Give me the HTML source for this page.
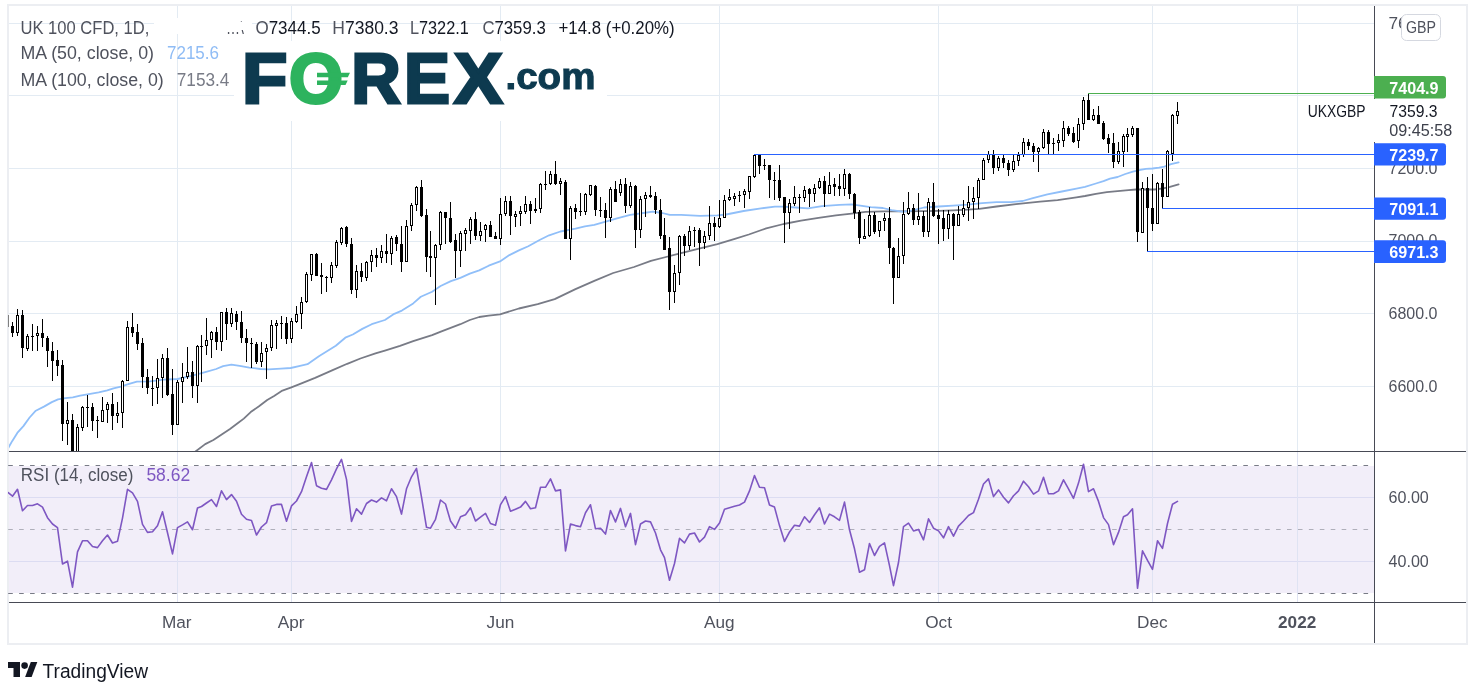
<!DOCTYPE html><html><head><meta charset="utf-8"><title>UK 100 CFD chart</title><style>html,body{margin:0;padding:0;background:#fff;}body{width:1482px;height:689px;overflow:hidden;position:relative;}svg{position:absolute;left:0;top:0;display:block;}text{font-family:"Liberation Sans", Arial, sans-serif;}</style></head><body>
<svg width="1482" height="689" viewBox="0 0 1482 689">
<defs><clipPath id="mp"><rect x="9" y="6" width="1365" height="445"/></clipPath><clipPath id="rp"><rect x="8" y="452" width="1366" height="150"/></clipPath></defs>
<rect x="7" y="4" width="1461" height="2" fill="#eceef2"/>
<rect x="7" y="643" width="1461" height="2" fill="#eceef2"/>
<rect x="7" y="4" width="2" height="641" fill="#eceef2"/>
<rect x="1466" y="4" width="2" height="641" fill="#eceef2"/>
<rect x="9" y="466" width="1365" height="127" fill="#f2eef9"/>
<rect x="9" y="23" width="1365" height="1" fill="#e3ebf3"/>
<rect x="9" y="95" width="1365" height="1" fill="#e3ebf3"/>
<rect x="9" y="168" width="1365" height="1" fill="#e3ebf3"/>
<rect x="9" y="241" width="1365" height="1" fill="#e3ebf3"/>
<rect x="9" y="313" width="1365" height="1" fill="#e3ebf3"/>
<rect x="9" y="386" width="1365" height="1" fill="#e3ebf3"/>
<rect x="9" y="497" width="1365" height="1" fill="#dcdcf2"/>
<rect x="9" y="561" width="1365" height="1" fill="#dcdcf2"/>
<rect x="177" y="6" width="1" height="445" fill="#e3ebf3"/>
<rect x="177" y="452" width="1" height="150" fill="#dfe3f3"/>
<rect x="291" y="6" width="1" height="445" fill="#e3ebf3"/>
<rect x="291" y="452" width="1" height="150" fill="#dfe3f3"/>
<rect x="500" y="6" width="1" height="445" fill="#e3ebf3"/>
<rect x="500" y="452" width="1" height="150" fill="#dfe3f3"/>
<rect x="719" y="6" width="1" height="445" fill="#e3ebf3"/>
<rect x="719" y="452" width="1" height="150" fill="#dfe3f3"/>
<rect x="938" y="6" width="1" height="445" fill="#e3ebf3"/>
<rect x="938" y="452" width="1" height="150" fill="#dfe3f3"/>
<rect x="1152" y="6" width="1" height="445" fill="#e3ebf3"/>
<rect x="1152" y="452" width="1" height="150" fill="#dfe3f3"/>
<rect x="1297" y="6" width="1" height="445" fill="#e3ebf3"/>
<rect x="1297" y="452" width="1" height="150" fill="#dfe3f3"/>
<line x1="8.2" y1="465.5" x2="1374" y2="465.5" stroke="#787b86" stroke-width="1" stroke-dasharray="4.6 6.33"/>
<line x1="8.2" y1="529.5" x2="1374" y2="529.5" stroke="rgba(120,123,134,0.55)" stroke-width="1" stroke-dasharray="4.6 6.33"/>
<line x1="8.2" y1="593.5" x2="1374" y2="593.5" stroke="#787b86" stroke-width="1" stroke-dasharray="4.6 6.33"/>
<g clip-path="url(#mp)">
<polyline points="195.5,451.5 205.2,444.1 213.4,440.0 221.7,434.5 230.0,429.0 238.3,422.8 243.8,418.6 250.7,412.1 259.0,406.2 267.2,400.0 274.1,395.9 282.4,390.6 290.7,387.6 299.0,384.3 315.1,377.9 332.1,370.4 347.2,363.8 360.4,358.5 375.5,353.4 384.9,350.6 400.0,345.8 413.2,341.1 432.1,335.1 441.5,331.3 460.4,324.2 469.8,320.0 479.2,317.0 488.7,315.7 500.0,314.4 518.9,308.5 537.7,304.2 554.7,299.1 575.5,289.1 594.3,280.9 613.2,273.0 634.0,267.0 650.9,260.8 666.0,257.0 681.1,253.2 700.0,248.4 717.4,244.1 734.8,238.9 748.8,234.5 766.2,228.4 783.6,224.0 801.0,220.6 818.5,217.9 835.9,215.3 851.6,213.6 865.5,211.8 882.9,211.3 900.0,211.3 924.0,211.1 938.5,210.8 953.1,210.4 967.6,209.7 979.2,208.9 996.6,206.5 1018.4,203.9 1040.1,201.7 1057.6,200.2 1076.4,197.3 1085.0,196.0 1095.9,193.9 1106.8,192.2 1117.6,191.1 1128.5,190.1 1136.1,189.5 1145.9,189.5 1154.6,189.5 1163.3,188.4 1169.9,186.8 1178.6,184.4" fill="none" stroke="#787b86" stroke-width="1.8" stroke-linejoin="round" stroke-linecap="round"/>
<polyline points="8.4,447.7 12.3,440.9 17.3,432.9 23.4,426.1 29.6,417.5 35.8,410.7 44.4,406.4 51.8,402.1 58.0,399.4 65.4,398.1 72.8,397.4 80.2,395.7 88.8,394.1 98.7,392.4 107.3,390.4 113.5,388.3 120.9,386.7 128.3,384.2 136.9,381.7 150.0,381.3 163.8,379.6 177.6,379.0 191.4,375.9 205.2,372.1 216.2,369.0 223.1,366.2 231.4,364.6 239.7,365.8 249.3,367.6 260.3,369.0 268.6,369.4 281.0,368.6 290.7,368.0 299.0,366.2 307.5,364.2 318.9,356.2 335.8,345.8 345.3,337.7 352.8,334.5 362.3,328.9 371.7,324.2 384.9,320.0 394.3,313.8 401.9,310.6 413.2,303.4 420.8,296.8 432.1,291.7 440.6,286.0 450.9,281.1 460.4,277.9 469.8,273.6 479.2,270.4 488.7,265.7 500.0,261.4 509.4,255.1 518.9,250.4 528.3,246.2 539.6,240.0 549.1,235.3 560.4,231.5 575.5,228.7 584.9,226.4 594.3,224.9 605.7,221.7 617.0,218.3 630.2,214.9 643.4,213.0 652.8,211.7 662.3,213.0 669.8,214.9 681.1,214.9 700.0,215.8 717.4,215.3 726.1,214.5 743.6,211.0 761.0,208.4 774.9,206.6 783.6,206.6 795.8,207.5 808.0,208.4 822.0,206.1 839.4,204.9 851.6,204.4 860.3,205.7 870.7,207.1 882.9,208.0 891.6,210.1 902.3,211.6 909.5,211.1 924.0,207.5 938.5,206.5 953.1,205.6 967.6,204.6 982.1,203.1 996.6,202.1 1011.1,202.1 1022.7,201.0 1032.9,198.1 1047.4,194.4 1061.9,191.5 1076.4,188.6 1085.0,186.8 1095.9,183.5 1103.5,181.1 1110.0,178.6 1117.6,177.0 1125.3,174.0 1132.9,171.6 1140.5,169.9 1145.9,168.8 1152.5,168.5 1159.0,167.7 1164.4,166.7 1171.0,164.2 1178.6,162.3" fill="none" stroke="#90bff9" stroke-width="1.8" stroke-linejoin="round" stroke-linecap="round"/>
<g fill="#000"><rect x="12" y="322" width="1" height="15"/><rect x="11" y="326" width="3" height="7"/><rect x="17" y="309" width="1" height="27"/><rect x="16" y="315" width="3" height="18"/><rect x="17" y="316" width="1" height="16" fill="#fff"/><rect x="22" y="310" width="1" height="48"/><rect x="21" y="315" width="3" height="33"/><rect x="27" y="334" width="1" height="17"/><rect x="26" y="336" width="3" height="13"/><rect x="27" y="337" width="1" height="11" fill="#fff"/><rect x="32" y="324" width="1" height="27"/><rect x="31" y="336" width="3" height="1"/><rect x="37" y="326" width="1" height="25"/><rect x="36" y="333" width="3" height="3"/><rect x="37" y="334" width="1" height="1" fill="#fff"/><rect x="42" y="319" width="1" height="28"/><rect x="41" y="333" width="3" height="5"/><rect x="47" y="336" width="1" height="31"/><rect x="46" y="338" width="3" height="13"/><rect x="52" y="342" width="1" height="39"/><rect x="51" y="351" width="3" height="10"/><rect x="57" y="350" width="1" height="26"/><rect x="56" y="360" width="3" height="6"/><rect x="62" y="360" width="1" height="81"/><rect x="61" y="365" width="3" height="59"/><rect x="67" y="402" width="1" height="43"/><rect x="66" y="420" width="3" height="4"/><rect x="67" y="421" width="1" height="2" fill="#fff"/><rect x="72" y="414" width="1" height="56"/><rect x="71" y="420" width="3" height="40"/><rect x="77" y="424" width="1" height="46"/><rect x="76" y="427" width="3" height="43"/><rect x="77" y="428" width="1" height="41" fill="#fff"/><rect x="82" y="406" width="1" height="25"/><rect x="81" y="407" width="3" height="21"/><rect x="82" y="408" width="1" height="19" fill="#fff"/><rect x="87" y="395" width="1" height="32"/><rect x="86" y="407" width="3" height="1"/><rect x="92" y="403" width="1" height="28"/><rect x="91" y="407" width="3" height="14"/><rect x="97" y="416" width="1" height="22"/><rect x="96" y="420" width="3" height="1"/><rect x="102" y="397" width="1" height="25"/><rect x="101" y="410" width="3" height="12"/><rect x="102" y="411" width="1" height="10" fill="#fff"/><rect x="107" y="402" width="1" height="21"/><rect x="106" y="404" width="3" height="6"/><rect x="107" y="405" width="1" height="4" fill="#fff"/><rect x="112" y="393" width="1" height="37"/><rect x="111" y="404" width="3" height="12"/><rect x="117" y="402" width="1" height="21"/><rect x="116" y="413" width="3" height="3"/><rect x="117" y="414" width="1" height="1" fill="#fff"/><rect x="122" y="380" width="1" height="48"/><rect x="121" y="381" width="3" height="32"/><rect x="122" y="382" width="1" height="30" fill="#fff"/><rect x="127" y="321" width="1" height="60"/><rect x="126" y="327" width="3" height="54"/><rect x="127" y="328" width="1" height="52" fill="#fff"/><rect x="132" y="313" width="1" height="24"/><rect x="131" y="327" width="3" height="6"/><rect x="137" y="324" width="1" height="26"/><rect x="136" y="332" width="3" height="12"/><rect x="142" y="338" width="1" height="50"/><rect x="141" y="343" width="3" height="34"/><rect x="147" y="369" width="1" height="25"/><rect x="146" y="377" width="3" height="11"/><rect x="152" y="376" width="1" height="30"/><rect x="151" y="388" width="3" height="1"/><rect x="157" y="359" width="1" height="45"/><rect x="156" y="378" width="3" height="10"/><rect x="157" y="379" width="1" height="8" fill="#fff"/><rect x="162" y="354" width="1" height="44"/><rect x="161" y="358" width="3" height="20"/><rect x="162" y="359" width="1" height="18" fill="#fff"/><rect x="167" y="348" width="1" height="48"/><rect x="166" y="358" width="3" height="37"/><rect x="172" y="369" width="1" height="66"/><rect x="171" y="394" width="3" height="31"/><rect x="177" y="380" width="1" height="45"/><rect x="176" y="382" width="3" height="43"/><rect x="177" y="383" width="1" height="41" fill="#fff"/><rect x="182" y="363" width="1" height="40"/><rect x="181" y="377" width="3" height="5"/><rect x="182" y="378" width="1" height="3" fill="#fff"/><rect x="187" y="347" width="1" height="32"/><rect x="186" y="372" width="3" height="5"/><rect x="187" y="373" width="1" height="3" fill="#fff"/><rect x="192" y="361" width="1" height="37"/><rect x="191" y="372" width="3" height="14"/><rect x="197" y="345" width="1" height="58"/><rect x="196" y="346" width="3" height="40"/><rect x="197" y="347" width="1" height="38" fill="#fff"/><rect x="201" y="335" width="1" height="47"/><rect x="200" y="346" width="3" height="1"/><rect x="206" y="318" width="1" height="37"/><rect x="205" y="340" width="3" height="6"/><rect x="206" y="341" width="1" height="4" fill="#fff"/><rect x="211" y="331" width="1" height="27"/><rect x="210" y="332" width="3" height="8"/><rect x="211" y="333" width="1" height="6" fill="#fff"/><rect x="216" y="327" width="1" height="23"/><rect x="215" y="332" width="3" height="10"/><rect x="221" y="312" width="1" height="39"/><rect x="220" y="312" width="3" height="30"/><rect x="221" y="313" width="1" height="28" fill="#fff"/><rect x="226" y="308" width="1" height="32"/><rect x="225" y="312" width="3" height="12"/><rect x="231" y="308" width="1" height="19"/><rect x="230" y="313" width="3" height="11"/><rect x="231" y="314" width="1" height="9" fill="#fff"/><rect x="236" y="311" width="1" height="19"/><rect x="235" y="314" width="3" height="8"/><rect x="241" y="311" width="1" height="32"/><rect x="240" y="322" width="3" height="16"/><rect x="246" y="329" width="1" height="33"/><rect x="245" y="338" width="3" height="5"/><rect x="251" y="338" width="1" height="30"/><rect x="250" y="343" width="3" height="1"/><rect x="256" y="342" width="1" height="22"/><rect x="255" y="344" width="3" height="18"/><rect x="261" y="342" width="1" height="25"/><rect x="260" y="353" width="3" height="9"/><rect x="261" y="354" width="1" height="7" fill="#fff"/><rect x="266" y="344" width="1" height="35"/><rect x="265" y="348" width="3" height="4"/><rect x="266" y="349" width="1" height="2" fill="#fff"/><rect x="271" y="320" width="1" height="31"/><rect x="270" y="325" width="3" height="23"/><rect x="271" y="326" width="1" height="21" fill="#fff"/><rect x="276" y="320" width="1" height="29"/><rect x="275" y="323" width="3" height="3"/><rect x="276" y="324" width="1" height="1" fill="#fff"/><rect x="281" y="316" width="1" height="23"/><rect x="280" y="323" width="3" height="1"/><rect x="286" y="317" width="1" height="27"/><rect x="285" y="323" width="3" height="16"/><rect x="291" y="318" width="1" height="25"/><rect x="290" y="321" width="3" height="18"/><rect x="291" y="322" width="1" height="16" fill="#fff"/><rect x="296" y="306" width="1" height="17"/><rect x="295" y="314" width="3" height="8"/><rect x="296" y="315" width="1" height="6" fill="#fff"/><rect x="301" y="297" width="1" height="32"/><rect x="300" y="302" width="3" height="12"/><rect x="301" y="303" width="1" height="10" fill="#fff"/><rect x="306" y="272" width="1" height="31"/><rect x="305" y="274" width="3" height="28"/><rect x="306" y="275" width="1" height="26" fill="#fff"/><rect x="311" y="254" width="1" height="27"/><rect x="310" y="254" width="3" height="21"/><rect x="311" y="255" width="1" height="19" fill="#fff"/><rect x="316" y="253" width="1" height="23"/><rect x="315" y="254" width="3" height="22"/><rect x="321" y="263" width="1" height="31"/><rect x="320" y="275" width="3" height="2"/><rect x="326" y="276" width="1" height="16"/><rect x="325" y="277" width="3" height="1"/><rect x="331" y="262" width="1" height="21"/><rect x="330" y="265" width="3" height="13"/><rect x="331" y="266" width="1" height="11" fill="#fff"/><rect x="336" y="240" width="1" height="28"/><rect x="335" y="242" width="3" height="24"/><rect x="336" y="243" width="1" height="22" fill="#fff"/><rect x="341" y="227" width="1" height="18"/><rect x="340" y="228" width="3" height="15"/><rect x="341" y="229" width="1" height="13" fill="#fff"/><rect x="346" y="226" width="1" height="21"/><rect x="345" y="227" width="3" height="17"/><rect x="351" y="238" width="1" height="56"/><rect x="350" y="244" width="3" height="46"/><rect x="356" y="265" width="1" height="33"/><rect x="355" y="271" width="3" height="19"/><rect x="356" y="272" width="1" height="17" fill="#fff"/><rect x="361" y="263" width="1" height="19"/><rect x="360" y="271" width="3" height="6"/><rect x="366" y="261" width="1" height="20"/><rect x="365" y="262" width="3" height="16"/><rect x="366" y="263" width="1" height="14" fill="#fff"/><rect x="371" y="250" width="1" height="22"/><rect x="370" y="255" width="3" height="7"/><rect x="371" y="256" width="1" height="5" fill="#fff"/><rect x="376" y="248" width="1" height="19"/><rect x="375" y="255" width="3" height="3"/><rect x="381" y="245" width="1" height="18"/><rect x="380" y="251" width="3" height="7"/><rect x="381" y="252" width="1" height="5" fill="#fff"/><rect x="386" y="234" width="1" height="29"/><rect x="385" y="251" width="3" height="3"/><rect x="391" y="236" width="1" height="29"/><rect x="390" y="238" width="3" height="16"/><rect x="391" y="239" width="1" height="14" fill="#fff"/><rect x="396" y="235" width="1" height="16"/><rect x="395" y="237" width="3" height="7"/><rect x="401" y="226" width="1" height="46"/><rect x="400" y="244" width="3" height="18"/><rect x="406" y="220" width="1" height="42"/><rect x="405" y="226" width="3" height="36"/><rect x="406" y="227" width="1" height="34" fill="#fff"/><rect x="411" y="203" width="1" height="28"/><rect x="410" y="205" width="3" height="21"/><rect x="411" y="206" width="1" height="19" fill="#fff"/><rect x="416" y="186" width="1" height="25"/><rect x="415" y="187" width="3" height="18"/><rect x="416" y="188" width="1" height="16" fill="#fff"/><rect x="421" y="180" width="1" height="37"/><rect x="420" y="187" width="3" height="29"/><rect x="426" y="209" width="1" height="63"/><rect x="425" y="215" width="3" height="42"/><rect x="430" y="231" width="1" height="46"/><rect x="429" y="256" width="3" height="2"/><rect x="435" y="244" width="1" height="61"/><rect x="434" y="245" width="3" height="13"/><rect x="435" y="246" width="1" height="11" fill="#fff"/><rect x="440" y="211" width="1" height="39"/><rect x="439" y="212" width="3" height="33"/><rect x="440" y="213" width="1" height="31" fill="#fff"/><rect x="445" y="212" width="1" height="32"/><rect x="444" y="212" width="3" height="6"/><rect x="450" y="202" width="1" height="41"/><rect x="449" y="218" width="3" height="24"/><rect x="455" y="234" width="1" height="44"/><rect x="454" y="240" width="3" height="11"/><rect x="460" y="231" width="1" height="36"/><rect x="459" y="233" width="3" height="18"/><rect x="460" y="234" width="1" height="16" fill="#fff"/><rect x="465" y="228" width="1" height="23"/><rect x="464" y="230" width="3" height="4"/><rect x="465" y="231" width="1" height="2" fill="#fff"/><rect x="470" y="217" width="1" height="27"/><rect x="469" y="219" width="3" height="12"/><rect x="470" y="220" width="1" height="10" fill="#fff"/><rect x="475" y="212" width="1" height="28"/><rect x="474" y="219" width="3" height="17"/><rect x="480" y="222" width="1" height="19"/><rect x="479" y="231" width="3" height="5"/><rect x="480" y="232" width="1" height="3" fill="#fff"/><rect x="485" y="224" width="1" height="18"/><rect x="484" y="225" width="3" height="5"/><rect x="485" y="226" width="1" height="3" fill="#fff"/><rect x="490" y="221" width="1" height="16"/><rect x="489" y="225" width="3" height="12"/><rect x="495" y="232" width="1" height="7"/><rect x="494" y="236" width="3" height="3"/><rect x="500" y="198" width="1" height="47"/><rect x="499" y="214" width="3" height="25"/><rect x="500" y="215" width="1" height="23" fill="#fff"/><rect x="505" y="196" width="1" height="20"/><rect x="504" y="201" width="3" height="13"/><rect x="505" y="202" width="1" height="11" fill="#fff"/><rect x="510" y="196" width="1" height="39"/><rect x="509" y="201" width="3" height="15"/><rect x="515" y="211" width="1" height="16"/><rect x="514" y="214" width="3" height="3"/><rect x="515" y="215" width="1" height="1" fill="#fff"/><rect x="520" y="206" width="1" height="20"/><rect x="519" y="211" width="3" height="3"/><rect x="520" y="212" width="1" height="1" fill="#fff"/><rect x="525" y="196" width="1" height="18"/><rect x="524" y="204" width="3" height="8"/><rect x="525" y="205" width="1" height="6" fill="#fff"/><rect x="530" y="201" width="1" height="23"/><rect x="529" y="204" width="3" height="7"/><rect x="535" y="198" width="1" height="15"/><rect x="534" y="209" width="3" height="2"/><rect x="540" y="183" width="1" height="30"/><rect x="539" y="184" width="3" height="25"/><rect x="540" y="185" width="1" height="23" fill="#fff"/><rect x="545" y="171" width="1" height="19"/><rect x="544" y="184" width="3" height="1"/><rect x="550" y="171" width="1" height="14"/><rect x="549" y="174" width="3" height="10"/><rect x="550" y="175" width="1" height="8" fill="#fff"/><rect x="555" y="161" width="1" height="24"/><rect x="554" y="174" width="3" height="10"/><rect x="560" y="178" width="1" height="17"/><rect x="559" y="181" width="3" height="3"/><rect x="560" y="182" width="1" height="1" fill="#fff"/><rect x="565" y="180" width="1" height="59"/><rect x="564" y="182" width="3" height="57"/><rect x="570" y="206" width="1" height="54"/><rect x="569" y="208" width="3" height="31"/><rect x="570" y="209" width="1" height="29" fill="#fff"/><rect x="575" y="204" width="1" height="15"/><rect x="574" y="208" width="3" height="4"/><rect x="580" y="193" width="1" height="23"/><rect x="579" y="211" width="3" height="1"/><rect x="585" y="193" width="1" height="22"/><rect x="584" y="194" width="3" height="18"/><rect x="585" y="195" width="1" height="16" fill="#fff"/><rect x="590" y="185" width="1" height="11"/><rect x="589" y="185" width="3" height="10"/><rect x="590" y="186" width="1" height="8" fill="#fff"/><rect x="595" y="185" width="1" height="31"/><rect x="594" y="186" width="3" height="24"/><rect x="600" y="197" width="1" height="20"/><rect x="599" y="210" width="3" height="1"/><rect x="605" y="203" width="1" height="35"/><rect x="604" y="210" width="3" height="8"/><rect x="610" y="187" width="1" height="35"/><rect x="609" y="189" width="3" height="29"/><rect x="610" y="190" width="1" height="27" fill="#fff"/><rect x="615" y="181" width="1" height="21"/><rect x="614" y="189" width="3" height="13"/><rect x="620" y="179" width="1" height="17"/><rect x="619" y="184" width="3" height="9"/><rect x="620" y="185" width="1" height="7" fill="#fff"/><rect x="625" y="178" width="1" height="35"/><rect x="624" y="184" width="3" height="22"/><rect x="630" y="182" width="1" height="26"/><rect x="629" y="186" width="3" height="20"/><rect x="630" y="187" width="1" height="18" fill="#fff"/><rect x="635" y="185" width="1" height="63"/><rect x="634" y="186" width="3" height="44"/><rect x="640" y="196" width="1" height="42"/><rect x="639" y="199" width="3" height="31"/><rect x="640" y="200" width="1" height="29" fill="#fff"/><rect x="645" y="192" width="1" height="25"/><rect x="644" y="195" width="3" height="4"/><rect x="645" y="196" width="1" height="2" fill="#fff"/><rect x="650" y="186" width="1" height="12"/><rect x="649" y="195" width="3" height="2"/><rect x="655" y="192" width="1" height="22"/><rect x="654" y="196" width="3" height="14"/><rect x="660" y="199" width="1" height="40"/><rect x="659" y="210" width="3" height="26"/><rect x="664" y="218" width="1" height="32"/><rect x="663" y="235" width="3" height="15"/><rect x="669" y="237" width="1" height="73"/><rect x="668" y="248" width="3" height="44"/><rect x="674" y="265" width="1" height="38"/><rect x="673" y="273" width="3" height="19"/><rect x="674" y="274" width="1" height="17" fill="#fff"/><rect x="679" y="235" width="1" height="50"/><rect x="678" y="236" width="3" height="37"/><rect x="679" y="237" width="1" height="35" fill="#fff"/><rect x="684" y="234" width="1" height="22"/><rect x="683" y="236" width="3" height="10"/><rect x="689" y="226" width="1" height="24"/><rect x="688" y="231" width="3" height="15"/><rect x="689" y="232" width="1" height="13" fill="#fff"/><rect x="694" y="227" width="1" height="20"/><rect x="693" y="230" width="3" height="1"/><rect x="699" y="228" width="1" height="38"/><rect x="698" y="230" width="3" height="13"/><rect x="704" y="231" width="1" height="18"/><rect x="703" y="236" width="3" height="7"/><rect x="704" y="237" width="1" height="5" fill="#fff"/><rect x="709" y="206" width="1" height="34"/><rect x="708" y="223" width="3" height="13"/><rect x="709" y="224" width="1" height="11" fill="#fff"/><rect x="714" y="217" width="1" height="24"/><rect x="713" y="223" width="3" height="4"/><rect x="719" y="200" width="1" height="28"/><rect x="718" y="218" width="3" height="9"/><rect x="719" y="219" width="1" height="7" fill="#fff"/><rect x="724" y="195" width="1" height="23"/><rect x="723" y="200" width="3" height="18"/><rect x="724" y="201" width="1" height="16" fill="#fff"/><rect x="729" y="189" width="1" height="12"/><rect x="728" y="197" width="3" height="3"/><rect x="729" y="198" width="1" height="1" fill="#fff"/><rect x="734" y="193" width="1" height="13"/><rect x="733" y="196" width="3" height="3"/><rect x="734" y="197" width="1" height="1" fill="#fff"/><rect x="739" y="191" width="1" height="11"/><rect x="738" y="195" width="3" height="1"/><rect x="744" y="189" width="1" height="19"/><rect x="743" y="191" width="3" height="4"/><rect x="744" y="192" width="1" height="2" fill="#fff"/><rect x="749" y="176" width="1" height="23"/><rect x="748" y="176" width="3" height="16"/><rect x="749" y="177" width="1" height="14" fill="#fff"/><rect x="754" y="154" width="1" height="24"/><rect x="753" y="155" width="3" height="22"/><rect x="754" y="156" width="1" height="20" fill="#fff"/><rect x="759" y="154" width="1" height="20"/><rect x="758" y="155" width="3" height="11"/><rect x="764" y="159" width="1" height="11"/><rect x="763" y="165" width="3" height="1"/><rect x="769" y="165" width="1" height="33"/><rect x="768" y="165" width="3" height="15"/><rect x="774" y="172" width="1" height="28"/><rect x="773" y="180" width="3" height="1"/><rect x="779" y="165" width="1" height="36"/><rect x="778" y="180" width="3" height="18"/><rect x="784" y="197" width="1" height="46"/><rect x="783" y="197" width="3" height="16"/><rect x="789" y="199" width="1" height="30"/><rect x="788" y="203" width="3" height="10"/><rect x="789" y="204" width="1" height="8" fill="#fff"/><rect x="794" y="186" width="1" height="20"/><rect x="793" y="197" width="3" height="7"/><rect x="794" y="198" width="1" height="5" fill="#fff"/><rect x="799" y="194" width="1" height="19"/><rect x="798" y="197" width="3" height="1"/><rect x="804" y="186" width="1" height="16"/><rect x="803" y="190" width="3" height="8"/><rect x="804" y="191" width="1" height="6" fill="#fff"/><rect x="809" y="188" width="1" height="19"/><rect x="808" y="189" width="3" height="5"/><rect x="814" y="184" width="1" height="18"/><rect x="813" y="188" width="3" height="6"/><rect x="814" y="189" width="1" height="4" fill="#fff"/><rect x="819" y="178" width="1" height="11"/><rect x="818" y="181" width="3" height="7"/><rect x="819" y="182" width="1" height="5" fill="#fff"/><rect x="824" y="176" width="1" height="31"/><rect x="823" y="181" width="3" height="13"/><rect x="829" y="172" width="1" height="22"/><rect x="828" y="185" width="3" height="9"/><rect x="829" y="186" width="1" height="7" fill="#fff"/><rect x="834" y="178" width="1" height="18"/><rect x="833" y="184" width="3" height="3"/><rect x="839" y="174" width="1" height="22"/><rect x="838" y="186" width="3" height="3"/><rect x="844" y="169" width="1" height="27"/><rect x="843" y="174" width="3" height="15"/><rect x="844" y="175" width="1" height="13" fill="#fff"/><rect x="849" y="173" width="1" height="26"/><rect x="848" y="174" width="3" height="20"/><rect x="854" y="193" width="1" height="26"/><rect x="853" y="194" width="3" height="19"/><rect x="859" y="210" width="1" height="34"/><rect x="858" y="212" width="3" height="26"/><rect x="864" y="219" width="1" height="20"/><rect x="863" y="236" width="3" height="3"/><rect x="864" y="237" width="1" height="1" fill="#fff"/><rect x="869" y="207" width="1" height="30"/><rect x="868" y="215" width="3" height="21"/><rect x="869" y="216" width="1" height="19" fill="#fff"/><rect x="874" y="212" width="1" height="22"/><rect x="873" y="215" width="3" height="17"/><rect x="879" y="221" width="1" height="16"/><rect x="878" y="221" width="3" height="10"/><rect x="879" y="222" width="1" height="8" fill="#fff"/><rect x="884" y="213" width="1" height="18"/><rect x="883" y="218" width="3" height="3"/><rect x="884" y="219" width="1" height="1" fill="#fff"/><rect x="889" y="207" width="1" height="57"/><rect x="888" y="218" width="3" height="30"/><rect x="893" y="247" width="1" height="57"/><rect x="892" y="248" width="3" height="30"/><rect x="898" y="238" width="1" height="40"/><rect x="897" y="256" width="3" height="22"/><rect x="898" y="257" width="1" height="20" fill="#fff"/><rect x="903" y="202" width="1" height="62"/><rect x="902" y="214" width="3" height="42"/><rect x="903" y="215" width="1" height="40" fill="#fff"/><rect x="908" y="192" width="1" height="23"/><rect x="907" y="208" width="3" height="6"/><rect x="908" y="209" width="1" height="4" fill="#fff"/><rect x="913" y="204" width="1" height="21"/><rect x="912" y="208" width="3" height="12"/><rect x="918" y="193" width="1" height="32"/><rect x="917" y="216" width="3" height="4"/><rect x="918" y="217" width="1" height="2" fill="#fff"/><rect x="923" y="211" width="1" height="26"/><rect x="922" y="216" width="3" height="16"/><rect x="928" y="198" width="1" height="39"/><rect x="927" y="202" width="3" height="30"/><rect x="928" y="203" width="1" height="28" fill="#fff"/><rect x="933" y="183" width="1" height="34"/><rect x="932" y="202" width="3" height="14"/><rect x="938" y="209" width="1" height="35"/><rect x="937" y="215" width="3" height="4"/><rect x="943" y="210" width="1" height="31"/><rect x="942" y="218" width="3" height="11"/><rect x="948" y="210" width="1" height="29"/><rect x="947" y="214" width="3" height="15"/><rect x="948" y="215" width="1" height="13" fill="#fff"/><rect x="953" y="213" width="1" height="47"/><rect x="952" y="214" width="3" height="12"/><rect x="958" y="206" width="1" height="20"/><rect x="957" y="214" width="3" height="12"/><rect x="958" y="215" width="1" height="10" fill="#fff"/><rect x="963" y="200" width="1" height="17"/><rect x="962" y="208" width="3" height="7"/><rect x="963" y="209" width="1" height="5" fill="#fff"/><rect x="968" y="186" width="1" height="35"/><rect x="967" y="202" width="3" height="6"/><rect x="968" y="203" width="1" height="4" fill="#fff"/><rect x="973" y="187" width="1" height="32"/><rect x="972" y="198" width="3" height="4"/><rect x="973" y="199" width="1" height="2" fill="#fff"/><rect x="978" y="178" width="1" height="31"/><rect x="977" y="180" width="3" height="18"/><rect x="978" y="181" width="1" height="16" fill="#fff"/><rect x="983" y="158" width="1" height="22"/><rect x="982" y="160" width="3" height="20"/><rect x="983" y="161" width="1" height="18" fill="#fff"/><rect x="988" y="151" width="1" height="12"/><rect x="987" y="154" width="3" height="6"/><rect x="988" y="155" width="1" height="4" fill="#fff"/><rect x="993" y="150" width="1" height="24"/><rect x="992" y="154" width="3" height="14"/><rect x="998" y="156" width="1" height="15"/><rect x="997" y="158" width="3" height="10"/><rect x="998" y="159" width="1" height="8" fill="#fff"/><rect x="1003" y="155" width="1" height="13"/><rect x="1002" y="158" width="3" height="5"/><rect x="1008" y="160" width="1" height="16"/><rect x="1007" y="163" width="3" height="7"/><rect x="1013" y="155" width="1" height="17"/><rect x="1012" y="161" width="3" height="9"/><rect x="1013" y="162" width="1" height="7" fill="#fff"/><rect x="1018" y="152" width="1" height="14"/><rect x="1017" y="155" width="3" height="6"/><rect x="1018" y="156" width="1" height="4" fill="#fff"/><rect x="1023" y="138" width="1" height="19"/><rect x="1022" y="142" width="3" height="13"/><rect x="1023" y="143" width="1" height="11" fill="#fff"/><rect x="1028" y="139" width="1" height="11"/><rect x="1027" y="142" width="3" height="4"/><rect x="1033" y="143" width="1" height="19"/><rect x="1032" y="146" width="3" height="6"/><rect x="1038" y="147" width="1" height="25"/><rect x="1037" y="148" width="3" height="4"/><rect x="1038" y="149" width="1" height="2" fill="#fff"/><rect x="1043" y="129" width="1" height="20"/><rect x="1042" y="132" width="3" height="16"/><rect x="1043" y="133" width="1" height="14" fill="#fff"/><rect x="1048" y="130" width="1" height="24"/><rect x="1047" y="132" width="3" height="12"/><rect x="1053" y="138" width="1" height="16"/><rect x="1052" y="143" width="3" height="1"/><rect x="1058" y="134" width="1" height="17"/><rect x="1057" y="140" width="3" height="3"/><rect x="1058" y="141" width="1" height="1" fill="#fff"/><rect x="1063" y="121" width="1" height="26"/><rect x="1062" y="128" width="3" height="13"/><rect x="1063" y="129" width="1" height="11" fill="#fff"/><rect x="1068" y="126" width="1" height="10"/><rect x="1067" y="128" width="3" height="6"/><rect x="1073" y="127" width="1" height="16"/><rect x="1072" y="133" width="3" height="9"/><rect x="1078" y="118" width="1" height="30"/><rect x="1077" y="124" width="3" height="17"/><rect x="1078" y="125" width="1" height="15" fill="#fff"/><rect x="1083" y="97" width="1" height="33"/><rect x="1082" y="100" width="3" height="24"/><rect x="1083" y="101" width="1" height="22" fill="#fff"/><rect x="1088" y="94" width="1" height="26"/><rect x="1087" y="100" width="3" height="20"/><rect x="1093" y="109" width="1" height="12"/><rect x="1092" y="115" width="3" height="5"/><rect x="1093" y="116" width="1" height="3" fill="#fff"/><rect x="1098" y="106" width="1" height="18"/><rect x="1097" y="115" width="3" height="9"/><rect x="1103" y="121" width="1" height="19"/><rect x="1102" y="123" width="3" height="16"/><rect x="1108" y="134" width="1" height="19"/><rect x="1107" y="138" width="3" height="6"/><rect x="1113" y="133" width="1" height="35"/><rect x="1112" y="143" width="3" height="19"/><rect x="1118" y="142" width="1" height="22"/><rect x="1117" y="151" width="3" height="11"/><rect x="1118" y="152" width="1" height="9" fill="#fff"/><rect x="1123" y="134" width="1" height="33"/><rect x="1122" y="136" width="3" height="16"/><rect x="1123" y="137" width="1" height="14" fill="#fff"/><rect x="1127" y="128" width="1" height="24"/><rect x="1126" y="134" width="3" height="3"/><rect x="1127" y="135" width="1" height="1" fill="#fff"/><rect x="1132" y="126" width="1" height="11"/><rect x="1131" y="128" width="3" height="7"/><rect x="1132" y="129" width="1" height="5" fill="#fff"/><rect x="1137" y="128" width="1" height="114"/><rect x="1136" y="128" width="3" height="104"/><rect x="1142" y="182" width="1" height="51"/><rect x="1141" y="188" width="3" height="45"/><rect x="1142" y="189" width="1" height="43" fill="#fff"/><rect x="1147" y="177" width="1" height="74"/><rect x="1146" y="188" width="3" height="20"/><rect x="1152" y="174" width="1" height="57"/><rect x="1151" y="208" width="3" height="16"/><rect x="1157" y="182" width="1" height="42"/><rect x="1156" y="183" width="3" height="41"/><rect x="1157" y="184" width="1" height="39" fill="#fff"/><rect x="1162" y="169" width="1" height="39"/><rect x="1161" y="183" width="3" height="14"/><rect x="1167" y="150" width="1" height="47"/><rect x="1166" y="151" width="3" height="46"/><rect x="1167" y="152" width="1" height="44" fill="#fff"/><rect x="1172" y="114" width="1" height="47"/><rect x="1171" y="115" width="3" height="39"/><rect x="1172" y="116" width="1" height="37" fill="#fff"/><rect x="1177" y="102" width="1" height="22"/><rect x="1176" y="111" width="3" height="5"/><rect x="1177" y="112" width="1" height="3" fill="#fff"/></g>
<rect x="1088" y="93" width="286" height="1" fill="#4caf50"/>
<rect x="754" y="154" width="620" height="1" fill="#2962ff"/>
<rect x="1162" y="208" width="212" height="1" fill="#2962ff"/>
<rect x="1147" y="251" width="227" height="1" fill="#2962ff"/>
</g>
<rect x="8" y="315" width="1" height="12" fill="#808080"/>
<g clip-path="url(#rp)">
<polyline points="8.2,492.5 12.5,496.2 17.5,489.3 22.5,510.8 27.5,505.5 32.5,505.5 37.5,503.8 42.5,507.2 47.5,517.7 52.5,524.0 57.5,527.6 62.5,564.0 67.5,561.2 72.5,587.1 77.5,551.8 82.5,540.8 87.5,540.8 92.5,546.5 97.5,547.6 102.5,540.8 107.5,535.0 112.5,543.0 117.5,541.3 122.5,518.1 127.5,489.3 132.5,492.9 137.5,501.3 142.5,524.4 147.5,532.4 152.5,531.8 157.5,525.8 162.5,511.8 167.5,532.8 172.5,553.9 177.5,527.6 182.5,524.9 187.5,521.9 192.5,529.7 197.5,508.0 201.5,506.5 206.5,503.0 211.5,499.6 216.5,506.5 221.5,490.8 226.5,499.6 231.5,494.6 236.5,501.3 241.5,514.3 246.5,519.2 251.5,520.6 256.5,535.0 261.5,527.0 266.5,522.7 271.5,505.9 276.5,504.4 281.5,504.4 286.5,521.3 291.5,505.9 296.5,501.0 301.5,491.7 306.5,476.8 311.5,462.5 316.5,485.7 321.5,488.2 326.5,489.4 331.5,479.8 336.5,468.8 341.5,459.4 346.5,479.4 351.5,521.4 356.5,508.8 361.5,514.1 366.5,503.5 371.5,500.0 376.5,502.1 381.5,497.9 386.5,500.8 391.5,488.8 396.5,496.6 401.5,514.1 406.5,488.8 411.5,476.8 416.5,468.4 421.5,497.2 426.5,527.3 430.5,528.2 435.5,519.3 440.5,500.0 445.5,504.0 450.5,521.0 455.5,528.2 460.5,516.8 465.5,514.7 470.5,507.8 475.5,521.0 480.5,517.2 485.5,513.4 490.5,523.5 495.5,525.2 500.5,504.6 505.5,496.6 510.5,511.3 515.5,509.2 520.5,507.1 525.5,501.4 530.5,508.8 535.5,507.8 540.5,487.3 545.5,487.3 550.5,478.9 555.5,490.9 560.5,489.9 565.5,550.9 570.5,524.0 575.5,525.6 580.5,526.7 585.5,512.7 590.5,504.8 595.5,528.8 600.5,528.2 605.5,534.1 610.5,510.5 615.5,521.9 620.5,508.4 625.5,526.7 630.5,513.4 635.5,544.6 640.5,524.0 645.5,521.0 650.5,521.9 655.5,533.0 660.5,549.8 664.5,557.6 669.5,580.3 674.5,563.5 679.5,538.3 684.5,542.9 689.5,534.1 694.5,533.0 699.5,542.0 704.5,537.2 709.5,526.7 714.5,529.4 719.5,523.1 724.5,509.2 729.5,507.8 734.5,506.3 739.5,505.0 744.5,502.1 749.5,490.9 754.5,475.6 759.5,487.3 764.5,487.8 769.5,505.0 774.5,507.1 779.5,525.6 784.5,541.4 789.5,532.0 794.5,525.2 799.5,526.1 804.5,516.8 809.5,522.5 814.5,514.7 819.5,507.8 824.5,524.0 829.5,514.1 834.5,516.8 839.5,520.4 844.5,502.1 849.5,529.8 854.5,548.8 859.5,572.3 864.5,569.8 869.5,543.5 874.5,555.5 879.5,546.3 884.5,542.9 889.5,565.6 893.5,585.6 898.5,562.5 903.5,526.7 908.5,523.1 913.5,530.9 918.5,529.4 923.5,539.9 928.5,518.9 933.5,528.2 938.5,530.9 943.5,537.8 948.5,526.7 953.5,536.2 958.5,526.1 963.5,521.0 968.5,515.5 973.5,512.6 978.5,499.3 983.5,484.0 988.5,478.9 993.5,496.6 998.5,489.9 1003.5,497.2 1008.5,502.9 1013.5,495.8 1018.5,490.9 1023.5,481.2 1028.5,486.7 1033.5,494.1 1038.5,490.9 1043.5,477.2 1048.5,493.7 1053.5,493.7 1058.5,490.9 1063.5,479.8 1068.5,488.8 1073.5,498.3 1078.5,483.1 1083.5,464.2 1088.5,491.6 1093.5,488.8 1098.5,501.4 1103.5,517.6 1108.5,524.6 1113.5,544.6 1118.5,532.4 1123.5,516.8 1127.5,514.7 1132.5,508.8 1137.5,588.3 1142.5,550.9 1147.5,560.4 1152.5,569.4 1157.5,540.8 1162.5,548.4 1167.5,523.5 1172.5,504.2 1177.5,501.4" fill="none" stroke="#7e57c2" stroke-width="1.6" stroke-linejoin="round" stroke-linecap="round"/>
</g>
<rect x="9" y="451" width="1457" height="1" fill="#474a55"/>
<rect x="9" y="602" width="1457" height="1" fill="#474a55"/>
<rect x="1374" y="6" width="1" height="637" fill="#474a55"/>
<text x="1388.5" y="29.2" font-size="17.2" fill="#4f525d" text-anchor="start" font-weight="normal">76</text>
<text x="1388.5" y="173.8" font-size="17.2" fill="#4f525d" text-anchor="start" font-weight="normal" textLength="49" lengthAdjust="spacingAndGlyphs">7200.0</text>
<text x="1388.5" y="246.2" font-size="17.2" fill="#4f525d" text-anchor="start" font-weight="normal" textLength="49" lengthAdjust="spacingAndGlyphs">7000.0</text>
<text x="1388.5" y="319.1" font-size="17.2" fill="#4f525d" text-anchor="start" font-weight="normal" textLength="49" lengthAdjust="spacingAndGlyphs">6800.0</text>
<text x="1388.5" y="391.9" font-size="17.2" fill="#4f525d" text-anchor="start" font-weight="normal" textLength="49" lengthAdjust="spacingAndGlyphs">6600.0</text>
<text x="1388.5" y="502.8" font-size="17.2" fill="#4f525d" text-anchor="start" font-weight="normal" textLength="40.3" lengthAdjust="spacingAndGlyphs">60.00</text>
<text x="1388.5" y="566.8" font-size="17.2" fill="#4f525d" text-anchor="start" font-weight="normal" textLength="40.3" lengthAdjust="spacingAndGlyphs">40.00</text>
<rect x="1401.5" y="14.5" width="39" height="26" rx="5" fill="#fff" stroke="#d5d8e0"/>
<text x="1406" y="33" font-size="17.2" fill="#4f525d" text-anchor="start" font-weight="normal" textLength="30" lengthAdjust="spacingAndGlyphs">GBP</text>
<path d="M1374,76 H1443 a3,3 0 0 1 3,3 V95.6 a3,3 0 0 1 -3,3 H1374 Z" fill="#4caf50"/><text x="1389.2" y="93.8" font-size="17.2" fill="#fff" text-anchor="start" font-weight="bold" textLength="49.4" lengthAdjust="spacingAndGlyphs">7404.9</text>
<rect x="1374" y="99" width="72" height="43" fill="#fff"/>
<text x="1389.5" y="116.6" font-size="17.2" fill="#131722" text-anchor="start" font-weight="normal" textLength="48" lengthAdjust="spacingAndGlyphs">7359.3</text>
<text x="1389.3" y="135.5" font-size="17.2" fill="#3d404b" text-anchor="start" font-weight="normal" textLength="63" lengthAdjust="spacingAndGlyphs">09:45:58</text>
<path d="M1374,143.2 H1443 a3,3 0 0 1 3,3 V162.4 a3,3 0 0 1 -3,3 H1374 Z" fill="#2962ff"/><text x="1389.2" y="160.8" font-size="17.2" fill="#fff" text-anchor="start" font-weight="bold" textLength="49.4" lengthAdjust="spacingAndGlyphs">7239.7</text>
<path d="M1374,197.6 H1443 a3,3 0 0 1 3,3 V216.8 a3,3 0 0 1 -3,3 H1374 Z" fill="#2962ff"/><text x="1389.2" y="214.5" font-size="17.2" fill="#fff" text-anchor="start" font-weight="bold" textLength="49.4" lengthAdjust="spacingAndGlyphs">7091.1</text>
<path d="M1374,240.3 H1443 a3,3 0 0 1 3,3 V260 a3,3 0 0 1 -3,3 H1374 Z" fill="#2962ff"/><text x="1389.2" y="257.6" font-size="17.2" fill="#fff" text-anchor="start" font-weight="bold" textLength="49.4" lengthAdjust="spacingAndGlyphs">6971.3</text>
<text x="1307.8" y="116.6" font-size="17.2" fill="#131722" text-anchor="start" font-weight="normal" textLength="57.8" lengthAdjust="spacingAndGlyphs">UKXGBP</text>
<text x="176.7" y="627.9" font-size="17.2" fill="#4f525d" text-anchor="middle" font-weight="normal">Mar</text>
<text x="291.2" y="627.9" font-size="17.2" fill="#4f525d" text-anchor="middle" font-weight="normal">Apr</text>
<text x="500.4" y="627.9" font-size="17.2" fill="#4f525d" text-anchor="middle" font-weight="normal">Jun</text>
<text x="719.3" y="627.9" font-size="17.2" fill="#4f525d" text-anchor="middle" font-weight="normal">Aug</text>
<text x="938.6" y="627.9" font-size="17.2" fill="#4f525d" text-anchor="middle" font-weight="normal">Oct</text>
<text x="1152.4" y="627.9" font-size="17.2" fill="#4f525d" text-anchor="middle" font-weight="normal">Dec</text>
<text x="1297.2" y="627.9" font-size="17.2" fill="#4f525d" text-anchor="middle" font-weight="bold">2022</text>
<rect x="154" y="18" width="98" height="16" fill="#fff"/>
<text x="20.5" y="34" font-size="17.5" fill="#4f525d" text-anchor="start" font-weight="normal" textLength="128.8" lengthAdjust="spacingAndGlyphs">UK 100 CFD, 1D,</text>
<text x="226" y="34" font-size="17.5" fill="#4f525d" textLength="14" lengthAdjust="spacingAndGlyphs">…</text>
<path d="M241.6,30 L242.8,30 L243.9,34 L242.7,34 Z" fill="#4f525d"/><rect x="240.8" y="21" width="1.2" height="1" fill="#4f525d" opacity="0.6"/>
<text x="255.4" y="34" font-size="17.5" fill="#131722" text-anchor="start" font-weight="normal" textLength="65.2" lengthAdjust="spacingAndGlyphs"><tspan fill="#4f525d">O</tspan>7344.5</text>
<text x="332.3" y="34" font-size="17.5" fill="#131722" text-anchor="start" font-weight="normal"><tspan fill="#4f525d">H</tspan>7380.3</text>
<text x="409.9" y="34" font-size="17.5" fill="#131722" text-anchor="start" font-weight="normal" textLength="58.9" lengthAdjust="spacingAndGlyphs"><tspan fill="#4f525d">L</tspan>7322.1</text>
<text x="482.4" y="34" font-size="17.5" fill="#131722" text-anchor="start" font-weight="normal" textLength="63.3" lengthAdjust="spacingAndGlyphs"><tspan fill="#4f525d">C</tspan>7359.3</text>
<text x="558.5" y="34" font-size="17.5" fill="#131722" text-anchor="start" font-weight="normal" textLength="116.1" lengthAdjust="spacingAndGlyphs">+14.8 (+0.20%)</text>
<text x="20.5" y="59.4" font-size="17.5" fill="#4f525d" text-anchor="start" font-weight="normal" textLength="133.5" lengthAdjust="spacingAndGlyphs">MA (50, close, 0)</text>
<text x="167" y="59.4" font-size="17.5" fill="#8fbcf5" text-anchor="start" font-weight="normal" textLength="52" lengthAdjust="spacingAndGlyphs">7215.6</text>
<text x="20.5" y="85.8" font-size="17.5" fill="#4f525d" text-anchor="start" font-weight="normal" textLength="143.3" lengthAdjust="spacingAndGlyphs">MA (100, close, 0)</text>
<text x="176.8" y="85.8" font-size="17.5" fill="#787b86" text-anchor="start" font-weight="normal" textLength="52.6" lengthAdjust="spacingAndGlyphs">7153.4</text>
<text x="20.8" y="480.7" font-size="17.5" fill="#4f525d" text-anchor="start" font-weight="normal" textLength="112.5" lengthAdjust="spacingAndGlyphs">RSI (14, close)</text>
<text x="146.4" y="480.7" font-size="17.5" fill="#7e57c2" text-anchor="start" font-weight="normal">58.62</text>
<rect x="234" y="41" width="373" height="80" fill="#fff"/>
<g font-family="Liberation Sans, Arial, sans-serif" font-weight="bold">
<text transform="translate(242.0,103.0) scale(1.046,1)" x="0" y="0" font-size="71" fill="#0d3a4f" stroke="#0d3a4f" stroke-width="3">F</text>
<text transform="translate(289.0,103.0) scale(0.977,1)" x="0" y="0" font-size="71" fill="#2db35e" stroke="#2db35e" stroke-width="3">O</text>
<path d="M317,72.7 H350 L347.8,77.2 H317 Z M317,80.4 H347.7 L345.5,84.9 H317 Z" fill="#2db35e"/>
<text transform="translate(351.2,103.0) scale(0.965,1)" x="0" y="0" font-size="71" fill="#0d3a4f" stroke="#0d3a4f" stroke-width="3">R</text>
<text transform="translate(404.1,103.0) scale(0.972,1)" x="0" y="0" font-size="71" fill="#0d3a4f" stroke="#0d3a4f" stroke-width="3">E</text>
<text transform="translate(454.0,103.0) scale(1.026,1)" x="0" y="0" font-size="71" fill="#0d3a4f" stroke="#0d3a4f" stroke-width="3">X</text>
<text transform="translate(505.5,89.4) scale(1.07,1)" x="0" y="0" font-size="36" fill="#0d3a4f" stroke="#0d3a4f" stroke-width="1">.com</text>
</g>
<g fill="#131722"><path d="M8,662 H20 V677 H13.5 V668 H8 Z"/><circle cx="24.6" cy="665.6" r="3.3"/><path d="M30.8,662 H37.3 L31.6,677 H25.1 Z"/></g>
<text x="42.6" y="677.8" font-size="19.5" fill="#131722" text-anchor="start" font-weight="normal" textLength="105.4" lengthAdjust="spacingAndGlyphs">TradingView</text>
</svg></body></html>
